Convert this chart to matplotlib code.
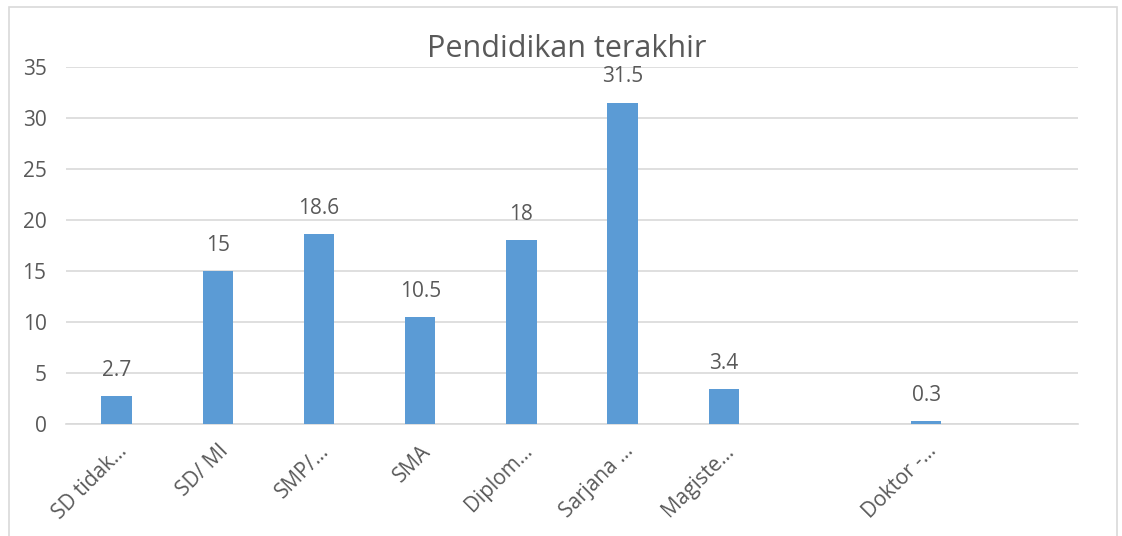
import numpy as np
import matplotlib
matplotlib.use('Agg')
import matplotlib.pyplot as plt
from matplotlib.patches import Rectangle

plt.rcParams['font.family'] = ['Open Sans', 'DejaVu Sans']

# data
kategori = ['SD tidak...', 'SD/ MI', 'SMP/...', 'SMA', 'Diplom...',
            'Sarjana ...', 'Magiste...', '', 'Doktor -...', '']
nilai = [2.7, 15, 18.6, 10.5, 18, 31.5, 3.4, None, 0.3, None]
label_nilai = ['2.7', '15', '18.6', '10.5', '18', '31.5', '3.4', '', '0.3', '']

teks = '#595959'
biru = '#5b9bd5'

fig = plt.figure(figsize=(11.22, 5.36), dpi=100)
ax = fig.add_axes([0.0588, 0.209, 0.902, 0.666])

# kotak luar chart
fig.patches.append(Rectangle((9 / 1122, -0.01), 1108 / 1122, 1 - 7 / 536 + 0.01,
                             transform=fig.transFigure, fill=False,
                             edgecolor='#d9d9d9', linewidth=1.2))

x = np.arange(len(kategori))
for i, v in enumerate(nilai):
    if v is None:
        continue
    ax.bar(x[i], v, width=0.3, color=biru, zorder=3)
    ax.text(x[i], v + 1.5, label_nilai[i], ha='center', va='bottom',
            fontsize=15, color=teks)

ax.set_xlim(-0.5, len(kategori) - 0.5)
ax.set_ylim(0, 35)
ax.set_yticks(range(0, 36, 5))
ax.yaxis.grid(True, color='#d9d9d9', linewidth=1.2, zorder=0)
ax.set_xticks(x)
ax.set_xticklabels(kategori, rotation=45, ha='right', rotation_mode='anchor',
                   fontsize=15, color=teks)
ax.tick_params(axis='y', labelsize=15, labelcolor=teks, length=0, pad=14)
ax.tick_params(axis='x', length=0, pad=12)
for s in ['top', 'right', 'left']:
    ax.spines[s].set_visible(False)
ax.spines['bottom'].set_color('#d9d9d9')
ax.spines['bottom'].set_linewidth(1.2)

fig.text(0.505, 0.908, 'Pendidikan terakhir', ha='center', va='center',
         fontsize=22, color=teks)

fig.savefig('out.png', dpi=100)
